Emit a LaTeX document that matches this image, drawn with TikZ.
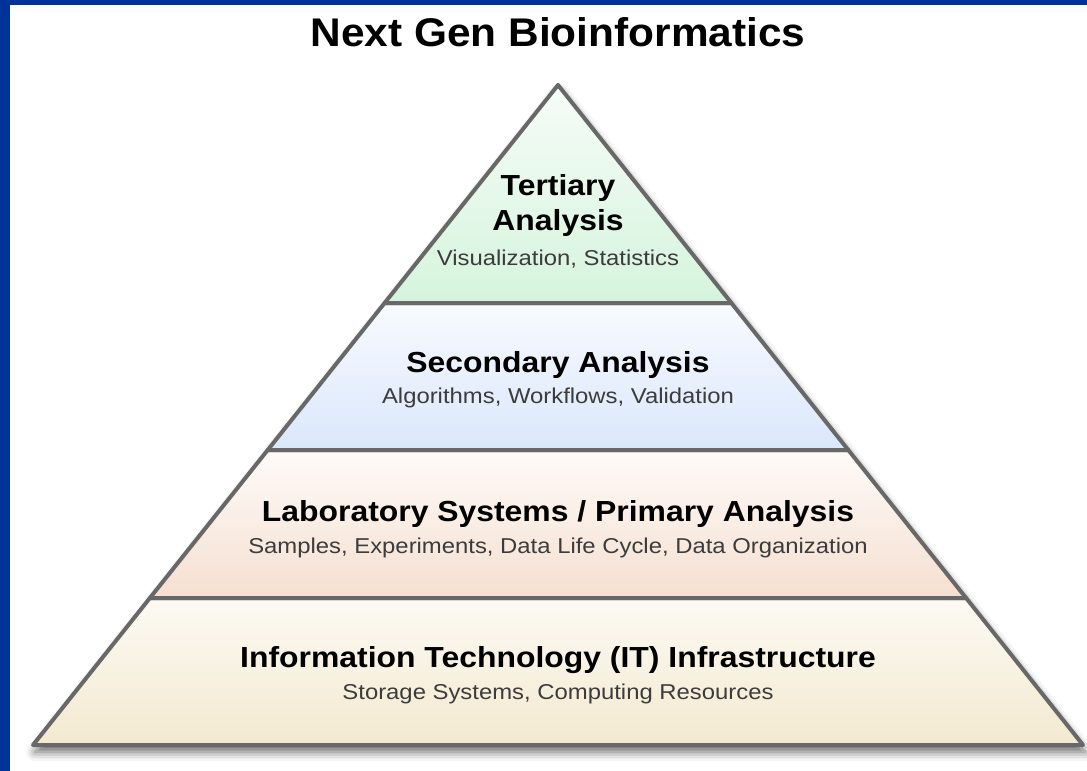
\documentclass[tikz,border=0pt]{standalone}
\usepackage{fontspec}
\setmainfont{Liberation Sans}
\newfontfamily\titlefont[FakeStretch=1.06]{Liberation Sans}
\newfontfamily\headfont[FakeStretch=1.10]{Liberation Sans}
\newfontfamily\subfont[FakeStretch=1.11]{Liberation Sans}
\usetikzlibrary{shadows.blur}
\definecolor{frameblue}{HTML}{003399}
\definecolor{edgegray}{HTML}{686868}
\definecolor{subgray}{HTML}{3C3C3C}
\definecolor{greenA}{HTML}{F6FCF8}\definecolor{greenB}{HTML}{D5F4DC}
\definecolor{blueA}{HTML}{F8FAFF}\definecolor{blueB}{HTML}{DAE7FB}
\definecolor{roseA}{HTML}{FEFBF9}\definecolor{roseB}{HTML}{F5DFD0}
\definecolor{sandA}{HTML}{FCFAF3}\definecolor{sandB}{HTML}{F3E9D0}
\tikzset{
  tier/.style={draw=edgegray, line width=4pt, line join=round},
  headline/.style={font=\headfont\bfseries\fontsize{29}{31}\selectfont, text=black, anchor=base, inner sep=0pt},
  subline/.style={font=\subfont\fontsize{21.5}{23}\selectfont, text=subgray, anchor=base, inner sep=0pt},
}
\begin{document}
\begin{tikzpicture}[x=1pt, y=-1pt]
\useasboundingbox (0,0) rectangle (1087,771);
% frame strips
\fill[frameblue] (0,0) rectangle (10,771);
\fill[frameblue] (0,0) rectangle (1087,5);

% pyramid corners and tier boundaries
\coordinate (apex) at (558,85);
\coordinate (l1) at (384.6,303); \coordinate (r1) at (731.4,303);
\coordinate (l2) at (267.7,450); \coordinate (r2) at (848.3,450);
\coordinate (l3) at (149.9,598); \coordinate (r3) at (966.1,598);
\coordinate (l4) at (33,745);    \coordinate (r4) at (1083,745);

% soft shadow under the whole pyramid
\fill[white, blur shadow={shadow xshift=2pt, shadow yshift=-7pt, shadow blur radius=9pt, shadow opacity=60}]
  (apex) -- (r4) -- (l4) -- cycle;

% tiers
\shade[top color=greenA, bottom color=greenB] (apex) -- (r1) -- (l1) -- cycle;
\shade[top color=blueA, bottom color=blueB] (l1) -- (r1) -- (r2) -- (l2) -- cycle;
\shade[top color=roseA, bottom color=roseB] (l2) -- (r2) -- (r3) -- (l3) -- cycle;
\shade[top color=sandA, bottom color=sandB] (l3) -- (r3) -- (r4) -- (l4) -- cycle;
\draw[tier] (apex) -- (r1) -- (l1) -- cycle;
\draw[tier] (l1) -- (r1) -- (r2) -- (l2) -- cycle;
\draw[tier] (l2) -- (r2) -- (r3) -- (l3) -- cycle;
\draw[tier] (l3) -- (r3) -- (r4) -- (l4) -- cycle;

% title
\node[anchor=base, inner sep=0pt, font=\titlefont\bfseries\fontsize{40}{42}\selectfont] (title) at (558,46) {Next Gen Bioinformatics};

% tier texts
\node[headline] (t1a) at (558,195) {Tertiary};
\node[headline] (t1b) at (558,230) {Analysis};
\node[subline]  (t1c) at (558,265) {Visualization, Statistics};

\node[headline] (t2a) at (558,372) {Secondary Analysis};
\node[subline]  (t2b) at (558,403) {Algorithms, Workflows, Validation};

\node[headline] (t3a) at (558,521) {Laboratory Systems / Primary Analysis};
\node[subline]  (t3b) at (558,553) {Samples, Experiments, Data Life Cycle, Data Organization};

\node[headline] (t4a) at (558,667) {Information Technology (IT) Infrastructure};
\node[subline]  (t4b) at (558,699) {Storage Systems, Computing Resources};
\end{tikzpicture}
\end{document}
